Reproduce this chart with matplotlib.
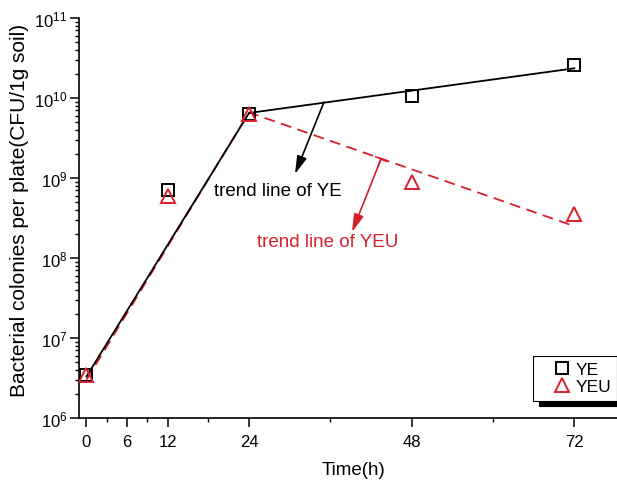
import matplotlib
matplotlib.use("Agg")
import matplotlib.pyplot as plt
from matplotlib.ticker import FixedLocator, LogLocator, NullFormatter
from matplotlib.legend_handler import HandlerLine2D

plt.rcParams['font.family'] = ['Liberation Sans', 'DejaVu Sans']
plt.rcParams['mathtext.fontset'] = 'custom'
plt.rcParams['mathtext.rm'] = 'Liberation Sans'
plt.rcParams['mathtext.it'] = 'Liberation Sans:italic'

# Sampling times (h) and plate counts (CFU per 1 g soil)
time_h = [0, 12, 24, 48, 72]
ye_counts = [3.4e6, 7.1e8, 6.3e9, 1.05e10, 2.6e10]
yeu_counts = [3.4e6, 6.0e8, 6.4e9, 8.9e8, 3.5e8]

# Piecewise trend lines (growth phase, then post-24 h phase)
trend_t = [0, 24, 72]
ye_trend = [3.3e6, 6.5e9, 2.35e10]
yeu_trend = [3.0e6, 6.6e9, 2.5e8]

x_major = [0, 6, 12, 24, 48, 72]
x_minor = [3, 9, 18, 36, 60]

RED = '#d6202a'

fig = plt.figure(figsize=(6.17, 4.81), dpi=100)
ax = fig.add_axes([79 / 617, 1 - 419 / 481, (617 - 79) / 617, (419 - 19) / 481])

ax.plot(trend_t, ye_trend, color='black', lw=1.3, zorder=2)
yeu_line, = ax.plot(trend_t, yeu_trend, color=RED, lw=1.3, zorder=1)
yeu_line.set_dashes((6, 3.6))

ye_pts, = ax.plot(time_h, ye_counts, linestyle='none', marker='s', ms=8.5, mfc='none',
                  mec='black', mew=1.4, label='YE', zorder=3)
yeu_pts, = ax.plot(time_h, yeu_counts, linestyle='none', marker='^', ms=10, mfc='none',
                   mec=RED, mew=1.4, label='YEU', zorder=3)

ax.set_yscale('log')
ax.set_ylim(1e6, 1e11)
ax.set_xlim(-1.1, 78.3)

ax.xaxis.set_major_locator(FixedLocator(x_major))
ax.xaxis.set_minor_locator(FixedLocator(x_minor))
ax.yaxis.set_major_locator(LogLocator(base=10, numticks=10))
ax.yaxis.set_minor_locator(LogLocator(base=10, subs=range(2, 10), numticks=20))
ax.yaxis.set_minor_formatter(NullFormatter())

ax.tick_params(axis='both', which='major', direction='out', length=6.5, width=1.1,
               labelsize=12)
ax.tick_params(axis='both', which='minor', direction='out', length=3, width=1.0)
ax.tick_params(axis='x', which='major', pad=5)
ax.tick_params(axis='y', which='major', pad=2)

for side in ('top', 'right'):
    ax.spines[side].set_visible(False)
for side in ('left', 'bottom'):
    ax.spines[side].set_linewidth(1.2)

ax.set_xlabel('Time(h)', fontsize=13.5)
ax.xaxis.set_label_coords((354 - 79) / 538, -(462 - 419) / 400)
ax.set_ylabel('Bacterial colonies per plate(CFU/1g soil)', fontsize=15)
ax.yaxis.set_label_coords(-(79 - 29) / 538, (419 - 210) / 400)

# Annotated trend lines
ax.annotate('', xy=(295, 481 - 175), xycoords='figure pixels',
            xytext=(324, 481 - 103), textcoords='figure pixels',
            arrowprops=dict(arrowstyle='-|>,head_length=0.9,head_width=0.25',
                            color='black', lw=1.2, shrinkA=0, shrinkB=0,
                            mutation_scale=12))
ax.text(278, 481 - 192, 'trend line of YE', transform=None, fontsize=13.5,
        color='black', ha='center', va='center')

ax.annotate('', xy=(352, 481 - 233), xycoords='figure pixels',
            xytext=(381, 481 - 160), textcoords='figure pixels',
            arrowprops=dict(arrowstyle='-|>,head_length=0.9,head_width=0.25',
                            color=RED, lw=1.2, shrinkA=0, shrinkB=0,
                            mutation_scale=12))
ax.annotate('', xy=(378, 481 - 167), xycoords='figure pixels',
            xytext=(381, 481 - 160), textcoords='figure pixels',
            arrowprops=dict(arrowstyle='|-|,widthA=0.35,widthB=0',
                            color=RED, lw=1.2, shrinkA=0, shrinkB=0,
                            mutation_scale=12))
ax.text(328, 481 - 243, 'trend line of YEU', transform=None, fontsize=13.5,
        color=RED, ha='center', va='center')

shifted = HandlerLine2D(xpad=1.0)
leg = ax.legend(loc='upper left', bbox_to_anchor=(533 / 617, 1 - 357 / 481),
                bbox_transform=fig.transFigure, fontsize=12.5, frameon=True,
                fancybox=False, handlelength=1.6, handletextpad=0.5,
                borderpad=0.35, labelspacing=0.12, borderaxespad=0,
                handler_map={ye_pts: shifted, yeu_pts: shifted},
                shadow={'color': 'black', 'alpha': 1, 'ox': 4, 'oy': -4})
leg.get_frame().set_edgecolor('black')
leg.get_frame().set_linewidth(0.8)

fig.savefig('out.png', dpi=100)
